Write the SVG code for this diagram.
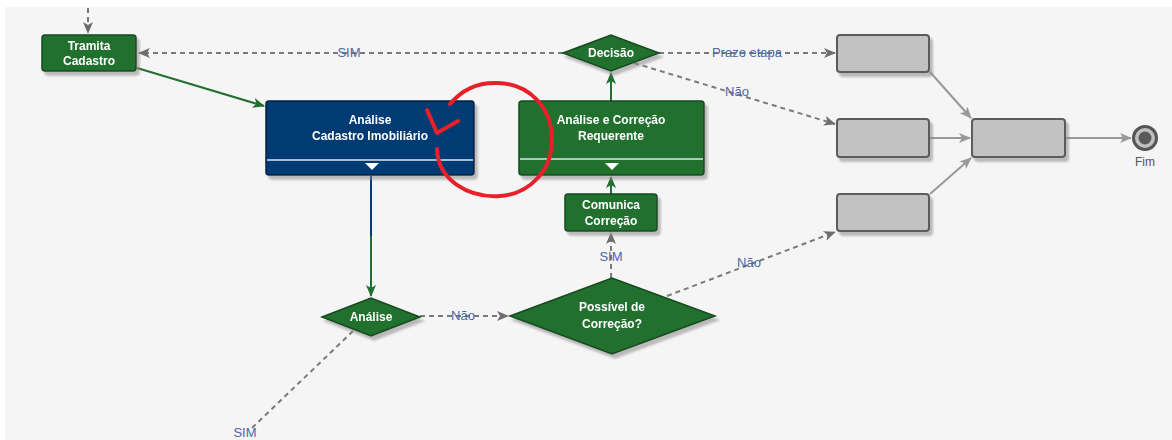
<svg xmlns="http://www.w3.org/2000/svg" width="1172" height="440" viewBox="0 0 1172 440">
<style>
.bg{fill:#f5f5f5}
.gn{fill:#226f2f;stroke:#164a1f;stroke-width:1.5}
.bn{fill:#063a73;stroke:#03203f;stroke-width:1.5}
.gy{fill:#c2c2c2;stroke:#5c5c5c;stroke-width:2}
.nt{font-family:"Liberation Sans",Arial,sans-serif;font-size:12px;font-weight:bold;fill:#ffffff;text-anchor:middle}
.lb{font-family:"Liberation Sans",Arial,sans-serif;font-size:13px;fill:#4a69a6;text-anchor:middle}
.fl{font-family:"Liberation Sans",Arial,sans-serif;font-size:12px;fill:#555;text-anchor:middle}
.dash{fill:none;stroke:#7a7a7a;stroke-width:2;stroke-dasharray:5 4}
.gsol{fill:none;stroke:#999;stroke-width:2}
.grn{fill:none;stroke:#226f2f;stroke-width:2}
.sep{stroke:#dfe6ee;stroke-width:1.5}
</style>
<defs>
<filter id="sh" x="-10%" y="-10%" width="130%" height="140%">
<feDropShadow dx="3" dy="4" stdDeviation="1.2" flood-color="#888" flood-opacity="0.55"/>
</filter>
<marker id="ag" viewBox="0 0 12 10" refX="11" refY="5" markerWidth="12" markerHeight="10" markerUnits="userSpaceOnUse" orient="auto">
<path d="M0,0 L12,5 L0,10 L3,5 z" fill="#6e6e6e"/>
</marker>
<marker id="al" viewBox="0 0 12 10" refX="11" refY="5" markerWidth="12" markerHeight="10" markerUnits="userSpaceOnUse" orient="auto">
<path d="M0,0 L12,5 L0,10 L3,5 z" fill="#999"/>
</marker>
<marker id="agr" viewBox="0 0 12 10" refX="11" refY="5" markerWidth="12" markerHeight="10" markerUnits="userSpaceOnUse" orient="auto">
<path d="M0,0 L12,5 L0,10 L3,5 z" fill="#226f2f"/>
</marker>
</defs>
<rect class="bg" x="5" y="7" width="1167" height="433"/>

<g id="connectors">
<line class="dash" x1="88" y1="8" x2="88" y2="33" marker-end="url(#ag)"/>
<line class="dash" x1="563" y1="53" x2="139" y2="53" marker-end="url(#ag)"/>
<line class="grn" x1="137" y1="68" x2="264" y2="106" marker-end="url(#agr)"/>
<line x1="371" y1="176" x2="371" y2="236" stroke="#063a73" stroke-width="2"/>
<line class="grn" x1="371" y1="236" x2="371" y2="296" marker-end="url(#agr)"/>
<line class="grn" x1="611" y1="101" x2="611" y2="73" marker-end="url(#agr)"/>
<line class="grn" x1="611" y1="194" x2="611" y2="177" marker-end="url(#agr)"/>
<line class="dash" x1="611" y1="278" x2="611" y2="233" marker-end="url(#ag)"/>
<line class="dash" x1="420" y1="316" x2="508" y2="316" marker-end="url(#ag)"/>
<line class="dash" x1="353" y1="331" x2="252" y2="428"/>
<line class="dash" x1="659" y1="53" x2="835" y2="53" marker-end="url(#ag)"/>
<line class="dash" x1="634" y1="63" x2="835" y2="124" marker-end="url(#ag)"/>
<line class="dash" x1="667" y1="296" x2="835" y2="232" marker-end="url(#ag)"/>
<line class="gsol" x1="930" y1="72" x2="971" y2="118" marker-end="url(#al)"/>
<line class="gsol" x1="930" y1="138" x2="970" y2="138" marker-end="url(#al)"/>
<line class="gsol" x1="930" y1="194" x2="971" y2="158" marker-end="url(#al)"/>
<line class="gsol" x1="1065" y1="138" x2="1131" y2="138" marker-end="url(#al)"/>
<text class="lb" x="349" y="57">SIM</text>
<text class="lb" x="747" y="57">Prazo etapa</text>
<text class="lb" x="737" y="96">Não</text>
<text class="lb" x="611" y="261">SIM</text>
<text class="lb" x="463" y="320">Não</text>
<text class="lb" x="749" y="267">Não</text>
<text class="lb" x="245" y="437">SIM</text>
</g>

<g id="tramita" filter="url(#sh)">
<rect class="gn" x="42" y="35" width="94" height="36" rx="3"/>
<text class="nt" x="89" y="50">Tramita</text>
<text class="nt" x="89" y="65">Cadastro</text>
</g>

<g id="analise-cadastro" filter="url(#sh)">
<rect class="bn" x="266" y="101" width="208" height="74" rx="3"/>
<line class="sep" x1="267" y1="160" x2="473" y2="160"/>
<path d="M365,163 L379,163 L372,170 z" fill="#ffffff"/>
<text class="nt" x="370" y="124">Análise</text>
<text class="nt" x="370" y="140">Cadastro Imobiliário</text>
</g>

<g id="analise-correcao" filter="url(#sh)">
<rect class="gn" x="519" y="101" width="185" height="74" rx="3"/>
<line class="sep" x1="520" y1="159" x2="703" y2="159"/>
<path d="M605,163 L619,163 L612,170 z" fill="#ffffff"/>
<text class="nt" x="611" y="124">Análise e Correção</text>
<text class="nt" x="611" y="140">Requerente</text>
</g>

<g id="decisao" filter="url(#sh)">
<polygon class="gn" points="563,53 611,35 659,53 611,71"/>
<text class="nt" x="611" y="57">Decisão</text>
</g>

<g id="comunica" filter="url(#sh)">
<rect class="gn" x="565" y="194" width="92" height="37" rx="3"/>
<text class="nt" x="611" y="209">Comunica</text>
<text class="nt" x="611" y="225">Correção</text>
</g>

<g id="possivel" filter="url(#sh)">
<polygon class="gn" points="510,316 612,278 715,316 612,354"/>
<text class="nt" x="612" y="311">Possível de</text>
<text class="nt" x="612" y="328">Correção?</text>
</g>

<g id="analise" filter="url(#sh)">
<polygon class="gn" points="322,317 371,298 420,317 371,336"/>
<text class="nt" x="371" y="321">Análise</text>
</g>

<g id="box1" filter="url(#sh)"><rect class="gy" x="837" y="35" width="92" height="37" rx="3"/></g>
<g id="box2" filter="url(#sh)"><rect class="gy" x="837" y="119" width="92" height="38" rx="3"/></g>
<g id="box3" filter="url(#sh)"><rect class="gy" x="837" y="194" width="92" height="37" rx="3"/></g>
<g id="box4" filter="url(#sh)"><rect class="gy" x="972" y="119" width="93" height="38" rx="3"/></g>

<g id="fim">
<circle cx="1145" cy="138" r="11.5" fill="#c0c0c0" stroke="#555" stroke-width="3"/>
<circle cx="1145" cy="138" r="6.5" fill="#5a5a5a"/>
<text class="fl" x="1145" y="166">Fim</text>
</g>

<g id="annotation" fill="none" stroke="#e8202a" stroke-width="4" stroke-linecap="round" stroke-linejoin="round">
<path d="M437,149 C438,180 468,198 500,196 C530,194 552,170 552,140 C552,108 530,84 498,83 C476,82 460,92 450,104"/>
<path d="M427,110 L437,133 L458,121"/>
</g>
</svg>
